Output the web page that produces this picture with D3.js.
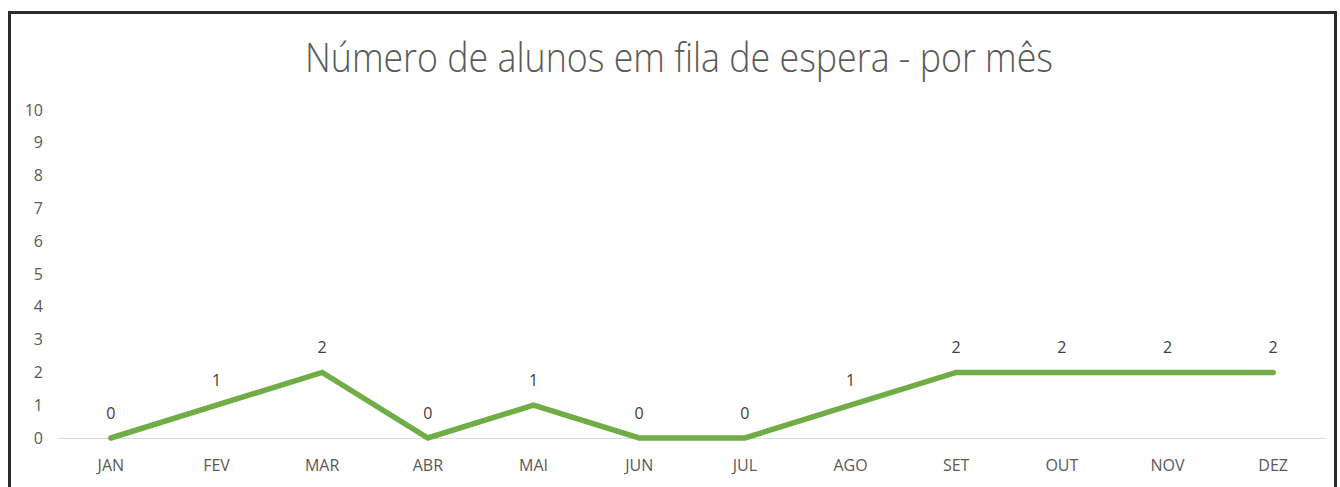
<!DOCTYPE html>
<html>
<head>
<meta charset="utf-8">
<script src="https://cdn.jsdelivr.net/npm/d3@7"></script>
<style>
  html, body { margin: 0; padding: 0; background: #fff; }
  svg { display: block; }
</style>
</head>
<body>
<svg id="chart" width="1340" height="487"></svg>
<script>
// Waiting-list counts per month
const months = ["JAN", "FEV", "MAR", "ABR", "MAI", "JUN", "JUL", "AGO", "SET", "OUT", "NOV", "DEZ"];
const alunos = [0, 1, 2, 0, 1, 0, 0, 1, 2, 2, 2, 2];
const yTicks = [0, 1, 2, 3, 4, 5, 6, 7, 8, 9, 10];
const chartTitle = "Número de alunos em fila de espera - por mês";

const svg = d3.select("#chart");
const font = "'Open Sans', Lato, sans-serif";
const textColor = "#595959";

// outer frame
svg.append("rect")
  .attr("x", 9.5).attr("y", 12.5)
  .attr("width", 1326).attr("height", 490)
  .attr("fill", "#fff").attr("stroke", "#2b2b2b").attr("stroke-width", 3);

const plot = { left: 58, right: 1326, top: 110, bottom: 438 };

const x = d3.scaleBand().domain(months).range([plot.left, plot.right]);
const y = d3.scaleLinear().domain([0, 10]).range([plot.bottom, plot.top]);

// title, condensed to the width of the original narrow face
svg.append("text")
  .attr("x", 679).attr("y", 72)
  .attr("text-anchor", "middle")
  .attr("font-family", font).attr("font-size", 40).attr("font-weight", 300)
  .attr("textLength", 748).attr("lengthAdjust", "spacingAndGlyphs")
  .attr("fill", textColor)
  .text(chartTitle);

// y axis labels
const yAxis = d3.axisLeft(y).tickValues(yTicks).tickSize(0).tickPadding(0);
const gy = svg.append("g").attr("transform", "translate(43,0)").call(yAxis);
gy.select(".domain").remove();
gy.selectAll("text")
  .attr("font-family", font).attr("font-size", 16).attr("fill", textColor);

// x baseline and labels
const xAxis = d3.axisBottom(x).tickSize(0).tickPadding(22);
const gx = svg.append("g").attr("transform", `translate(0,${plot.bottom})`).call(xAxis);
gx.select(".domain").attr("stroke", "#d9d9d9").attr("stroke-width", 1.2)
  .attr("d", `M${plot.left},0.5H${plot.right}`);
gx.selectAll("text")
  .attr("font-family", font).attr("font-size", 16).attr("fill", textColor);

// series line
const line = d3.line()
  .x((d, i) => x(months[i]) + x.bandwidth() / 2)
  .y(d => y(d));

svg.append("path")
  .datum(alunos)
  .attr("d", line)
  .attr("fill", "none")
  .attr("stroke", "#70ad47")
  .attr("stroke-width", 5.5)
  .attr("stroke-linejoin", "miter")
  .attr("stroke-linecap", "round");

// data labels
svg.append("g").selectAll("text")
  .data(alunos)
  .join("text")
  .attr("x", (d, i) => x(months[i]) + x.bandwidth() / 2)
  .attr("y", d => y(d) - 19)
  .attr("text-anchor", "middle")
  .attr("font-family", font).attr("font-size", 16)
  .attr("fill", "#404040")
  .text(d => d);
</script>
</body>
</html>
